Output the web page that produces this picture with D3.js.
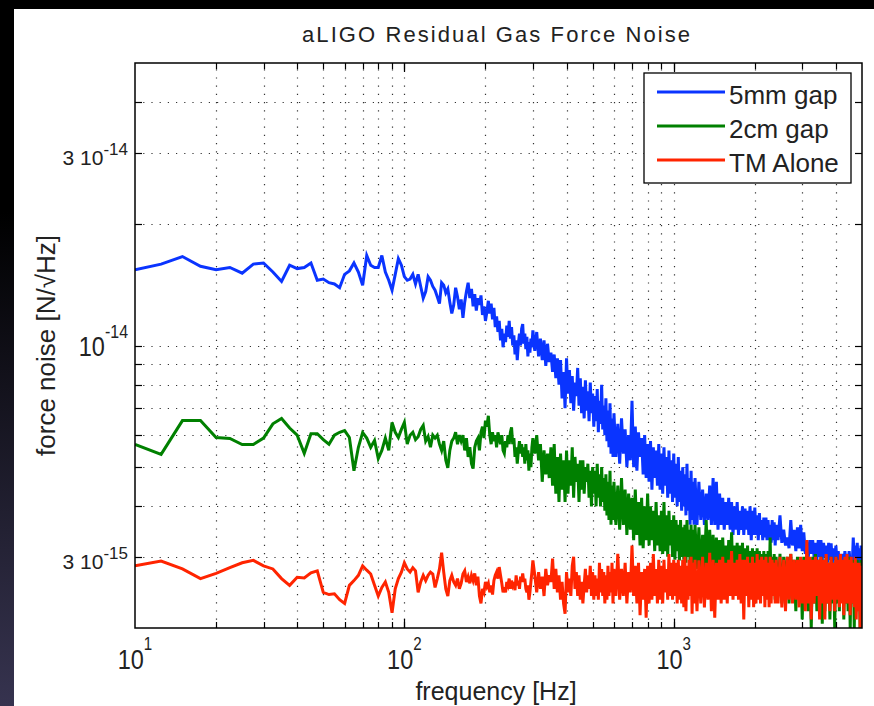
<!DOCTYPE html>
<html>
<head>
<meta charset="utf-8">
<script src="https://cdn.jsdelivr.net/npm/d3@7"></script>
<style>
  html, body { margin: 0; padding: 0; background: #000; }
  svg { display: block; font-family: "Liberation Sans", Arial, sans-serif; }
</style>
</head>
<body>
<div id="chart"></div>
<script>
// spectrum bins [start, stop, step] in Hz (coarser steps at high frequency)
var freqBins = [[10, 300, 2.5], [305, 600, 5], [610, 1200, 10], [1220, 2400, 20], [2440, 5040, 40]];

// force noise, in units of 1e-15 N/rtHz
var gap5mm = [
    // 10 - 150 Hz
    15.4, 15.9, 16.6, 15.7, 15.4, 15.6, 15.1, 15.9, 16.0, 15.2,
    14.4, 15.8, 15.5, 15.6, 16.0, 14.5, 14.6, 14.3, 14.2, 13.9,
    15.0, 15.3, 16.0, 15.2, 14.1, 16.7, 15.8, 15.6, 15.6, 16.7,
    15.2, 14.5, 13.7, 15.0, 16.4, 15.8, 14.8, 14.5, 14.6, 15.0,
    14.2, 15.0, 14.0, 13.1, 13.6, 14.8, 14.5, 14.0, 13.7, 13.2,
    12.7, 14.3, 14.1, 13.5, 13.8, 12.8, 12.0,
    // 152.5 - 300 Hz
    12.6, 13.9, 13.2, 12.3, 13.0, 11.7, 12.8, 13.6, 14.3, 13.1,
    13.8, 12.5, 13.4, 12.2, 13.1, 12.6, 13.3, 11.9, 12.5, 11.5,
    12.1, 12.9, 12.0, 12.7, 11.6, 12.4, 11.1, 11.8, 10.8, 11.5,
    10.3, 11.0, 9.9, 10.7, 10.2, 11.2, 10.5, 11.5, 10.4, 11.1,
    10.0, 10.6, 9.5, 10.3, 9.2, 10.1, 10.7, 10.0, 11.0, 11.3,
    10.1, 10.7, 9.8, 10.5, 9.4, 10.2, 9.6, 10.4, 9.9, 10.9,
    // 305 - 600 Hz
    9.7, 10.8, 9.4, 10.4, 9.2, 10.3, 8.9, 10.1, 9.1, 9.6,
    8.6, 9.5, 8.3, 9.3, 8.0, 9.2, 7.4, 8.6, 7.0, 9.3,
    7.6, 8.7, 7.2, 8.4, 6.9, 8.1, 7.5, 8.8, 7.1, 8.3,
    6.8, 7.9, 6.6, 8.2, 6.9, 7.7, 6.5, 8.1, 6.8, 7.6,
    6.3, 7.5, 6.5, 7.8, 6.1, 7.3, 6.4, 8.0, 6.2, 7.1,
    6.0, 7.4, 5.8, 6.9, 5.6, 7.2, 5.4, 6.6, 5.3, 6.8,
    // 610 - 1200 Hz
    5.3, 6.4, 5.1, 6.6, 5.4, 6.2, 5.0, 6.0, 5.2, 7.3,
    5.0, 6.3, 4.9, 6.1, 5.3, 5.9, 4.8, 6.0, 4.7, 5.7,
    4.6, 5.8, 4.4, 5.6, 4.7, 5.5, 4.5, 5.7, 4.4, 5.4,
    4.3, 5.6, 4.5, 5.3, 4.2, 5.5, 4.3, 5.2, 4.1, 5.4,
    4.2, 5.1, 4.0, 5.3, 4.1, 4.9, 3.9, 5.0, 4.0, 4.8,
    3.8, 5.1, 3.9, 4.7, 3.6, 4.9, 3.7, 4.6, 3.6, 4.7,
    // 1220 - 2400 Hz
    3.6, 4.6, 3.7, 4.4, 3.6, 4.3, 3.7, 4.5, 3.6, 4.7,
    3.6, 4.6, 3.5, 4.3, 3.6, 4.2, 3.5, 4.1, 3.6, 4.2,
    3.5, 4.1, 3.4, 4.0, 3.5, 4.1, 3.4, 3.9, 3.5, 4.0,
    3.4, 3.95, 3.5, 3.9, 3.4, 4.0, 3.3, 3.9, 3.4, 3.97,
    3.4, 3.8, 3.3, 3.85, 3.4, 3.7, 3.3, 3.75, 3.35, 3.75,
    3.3, 3.7, 3.3, 3.6, 3.25, 3.7, 3.3, 3.65, 3.2, 3.6,
    // 2440 - 5040 Hz
    3.3, 3.8, 3.25, 3.5, 3.2, 3.35, 3.15, 3.7, 3.2, 3.5,
    3.1, 3.55, 3.15, 3.6, 3.1, 3.45, 3.05, 3.25, 3.0, 3.3,
    3.05, 3.3, 3.0, 3.25, 2.95, 3.3, 3.0, 3.3, 2.95, 3.25,
    3.0, 3.2, 2.9, 3.25, 2.95, 3.24, 2.9, 3.15, 2.95, 3.2,
    2.9, 3.1, 2.85, 3.05, 2.9, 3.05, 2.85, 3.1, 2.9, 3.05,
    2.85, 3.1, 2.9, 3.0, 2.85, 3.35, 2.9, 3.2, 2.85, 3.25,
    2.9, 3.15, 2.85, 3.2, 2.9, 3.0
];

var gap2cm = [
    // 10 - 150 Hz
    5.69, 5.38, 6.52, 6.52, 5.92, 5.89, 5.69, 5.69, 5.9, 6.4,
    6.6, 6.25, 6.0, 5.41, 6.05, 6.05, 5.85, 5.7, 6.0, 6.1,
    6.16, 5.92, 4.9, 5.6, 6.09, 5.9, 5.6, 5.82, 5.25, 5.5,
    5.9, 5.5, 6.45, 6.1, 5.92, 6.2, 6.45, 5.7, 6.0, 6.1,
    5.85, 5.95, 6.2, 6.34, 5.8, 5.95, 5.6, 6.0, 5.9, 6.0,
    5.7, 5.5, 5.8, 5.2, 4.98, 5.5, 5.8,
    // 152.5 - 300 Hz
    5.9, 6.1, 5.7, 6.0, 5.8, 6.0, 5.5, 5.9, 5.3, 5.6,
    5.1, 4.96, 5.6, 5.8, 5.9, 5.5, 6.1, 6.3, 5.9, 6.52,
    6.3, 6.7, 6.0, 5.7, 6.1, 5.8, 6.0, 5.6, 6.1, 5.9,
    5.7, 6.0, 5.5, 5.41, 5.8, 5.6, 6.0, 5.7, 6.1, 6.27,
    5.7, 5.9, 5.3, 5.6, 5.1, 5.5, 5.8, 5.4, 5.7, 5.3,
    5.6, 5.1, 5.7, 5.2, 5.5, 4.9, 5.4, 5.0, 5.6, 5.9,
    // 305 - 600 Hz
    5.4, 6.0, 5.2, 5.7, 4.6, 5.5, 4.8, 5.4, 4.7, 5.6,
    4.5, 5.7, 4.3, 5.3, 4.1, 5.4, 4.4, 5.2, 4.1, 5.5,
    4.3, 5.2, 4.5, 5.6, 4.2, 5.3, 4.6, 5.1, 4.1, 5.2,
    4.4, 5.2, 4.3, 5.0, 4.6, 5.1, 4.2, 4.9, 4.0, 5.0,
    4.3, 4.9, 4.0, 5.1, 4.2, 4.8, 4.0, 5.0, 4.1, 4.7,
    3.9, 4.8, 3.8, 4.6, 3.7, 4.9, 3.6, 4.5, 3.7, 4.6,
    // 610 - 1200 Hz
    3.6, 4.5, 3.5, 4.7, 3.6, 4.4, 3.4, 4.3, 3.5, 4.2,
    3.3, 4.4, 3.4, 4.1, 3.2, 4.2, 3.15, 4.0, 3.3, 4.3,
    3.2, 4.0, 3.3, 3.9, 3.1, 4.1, 3.2, 3.8, 3.1, 3.9,
    3.05, 4.1, 3.1, 3.8, 3.0, 3.9, 3.2, 3.7, 3.0, 3.8,
    2.95, 3.7, 3.1, 3.6, 2.94, 3.7, 3.0, 3.55, 2.95, 3.6,
    2.9, 3.7, 3.0, 3.5, 2.9, 3.6, 2.85, 3.5, 2.9, 3.6,
    // 1220 - 2400 Hz
    2.8, 3.55, 2.7, 3.4, 2.8, 3.7, 2.7, 3.5, 2.75, 3.4,
    2.6, 3.35, 2.7, 3.3, 2.6, 3.35, 2.7, 3.2, 2.6, 3.3,
    2.7, 3.45, 2.6, 3.2, 2.65, 3.25, 2.55, 3.2, 2.6, 3.25,
    2.5, 3.15, 2.6, 3.2, 2.5, 3.1, 2.55, 3.15, 2.5, 3.1,
    2.6, 3.15, 2.45, 3.1, 2.5, 3.05, 2.4, 3.1, 2.5, 3.05,
    2.4, 3.1, 2.5, 3.35, 2.45, 3.0, 2.4, 3.05, 2.35, 3.0,
    // 2440 - 5040 Hz
    2.4, 3.05, 2.3, 3.0, 2.5, 3.0, 2.3, 3.05, 2.4, 2.95,
    2.2, 3.0, 2.4, 2.95, 2.1, 3.0, 2.3, 3.05, 2.2, 2.95,
    2.0, 3.0, 2.3, 3.05, 2.2, 2.95, 2.4, 3.0, 2.05, 2.95,
    2.2, 3.0, 2.3, 2.9, 2.1, 3.0, 2.3, 2.9, 2.0, 3.0,
    2.3, 2.95, 2.2, 3.0, 2.4, 2.9, 2.1, 2.95, 2.3, 2.9,
    2.2, 3.0, 2.0, 2.9, 2.3, 2.95, 2.0, 2.9, 2.2, 2.95,
    2.3, 2.9, 2.0, 2.95, 2.1, 2.9
];

var tmAlone = [
    // 10 - 150 Hz
    2.85, 2.93, 2.8, 2.65, 2.73, 2.82, 2.9, 2.94, 2.85, 2.8,
    2.65, 2.55, 2.67, 2.66, 2.74, 2.77, 2.45, 2.42, 2.43, 2.35,
    2.3, 2.55, 2.62, 2.7, 2.85, 2.78, 2.72, 2.55, 2.4, 2.52,
    2.6, 2.45, 2.18, 2.5, 2.65, 2.75, 2.9, 2.8, 2.75, 2.82,
    2.77, 2.45, 2.6, 2.7, 2.62, 2.7, 2.75, 2.72, 2.52, 2.65,
    2.8, 3.07, 2.75, 2.5, 2.4, 2.62, 2.7,
    // 152.5 - 300 Hz
    2.6, 2.55, 2.65, 2.5, 2.58, 2.72, 2.77, 2.6, 2.68, 2.58,
    2.7, 2.62, 2.73, 2.55, 2.68, 2.4, 2.3, 2.5, 2.45, 2.6,
    2.53, 2.58, 2.45, 2.55, 2.42, 2.62, 2.7, 2.75, 2.65, 2.83,
    2.7, 2.58, 2.45, 2.52, 2.45, 2.6, 2.55, 2.65, 2.5, 2.62,
    2.55, 2.6, 2.48, 2.7, 2.55, 2.62, 2.5, 2.68, 2.6, 2.73,
    2.6, 2.65, 2.5, 2.45, 2.55, 2.35, 2.45, 2.6, 2.75, 2.94,
    // 305 - 600 Hz
    2.7, 2.45, 2.75, 2.5, 2.68, 2.4, 2.8, 2.55, 2.7, 2.6,
    2.97, 2.5, 2.8, 2.45, 2.7, 2.35, 2.6, 2.3, 2.17, 2.75,
    2.45, 2.65, 2.4, 2.85, 3.0, 2.5, 2.75, 2.4, 2.7, 2.35,
    2.6, 2.3, 2.55, 2.8, 2.45, 2.7, 2.5, 2.85, 2.4, 2.75,
    2.35, 2.7, 2.4, 2.65, 2.35, 2.9, 2.45, 2.8, 2.4, 2.75,
    2.3, 2.7, 2.35, 2.85, 2.4, 2.75, 2.45, 2.9, 2.3, 2.8,
    // 610 - 1200 Hz
    2.4, 3.05, 2.35, 2.8, 2.4, 2.9, 2.3, 2.75, 2.45, 3.2,
    2.4, 2.85, 2.3, 2.9, 2.15, 2.75, 2.35, 2.8, 2.12, 2.85,
    2.3, 2.9, 2.35, 3.05, 2.4, 2.8, 2.3, 2.95, 2.35, 2.85,
    2.3, 2.95, 2.45, 2.8, 2.35, 3.05, 2.4, 2.9, 2.35, 2.95,
    2.4, 2.9, 2.3, 2.95, 2.35, 2.85, 2.3, 2.95, 2.25, 3.0,
    2.2, 2.85, 2.35, 2.95, 2.4, 3.0, 2.17, 2.9, 2.3, 2.95,
    // 1220 - 2400 Hz
    2.2, 2.94, 2.3, 3.0, 2.25, 2.9, 2.35, 3.07, 2.2, 2.95,
    2.12, 2.9, 2.35, 2.95, 2.3, 3.0, 2.35, 2.9, 2.3, 2.95,
    2.4, 3.1, 2.35, 2.9, 2.4, 2.95, 2.35, 3.05, 2.3, 2.95,
    2.1, 2.95, 2.4, 3.0, 2.25, 2.9, 2.35, 3.0, 2.25, 2.9,
    2.3, 3.05, 2.35, 2.95, 2.3, 3.0, 2.4, 2.95, 2.25, 3.0,
    2.35, 2.9, 2.25, 3.0, 2.3, 2.95, 2.4, 2.9, 2.3, 2.95,
    // 2440 - 5040 Hz
    2.3, 3.0, 2.25, 2.95, 2.2, 3.0, 2.35, 3.05, 2.3, 2.95,
    2.35, 2.95, 2.25, 3.0, 2.3, 2.95, 2.2, 3.3, 2.3, 3.0,
    2.1, 2.95, 2.3, 3.0, 2.4, 2.95, 2.1, 3.0, 2.3, 2.95,
    2.1, 3.05, 2.3, 2.9, 2.2, 3.0, 2.35, 2.9, 2.2, 3.0,
    2.35, 2.95, 2.25, 3.05, 2.3, 2.95, 2.15, 3.0, 2.3, 3.05,
    2.3, 2.95, 2.15, 3.0, 2.3, 2.9, 2.25, 3.0, 2.1, 2.9,
    2.2, 2.9, 2.0, 2.85, 2.3, 2.8
];

var seriesNames = ["5mm gap", "2cm gap", "TM Alone"];

var xTickValues = [10, 100, 1000];
var xTickExponents = ["1", "2", "3"];
var yTickValues = [3e-15, 1e-14, 3e-14];
var yTickMantissas = ["3 10", "10", "3 10"];
var yTickExponents = ["-15", "-14", "-14"];

function drawChart() {
    var width = 874;
    var height = 706;

    var plot = {left: 135, top: 63, right: 862, bottom: 628};
    var colours = ["#0a34ff", "#008000", "#ff2400"];

    var freq = [];
    freqBins.forEach(function(b) {
        d3.range(b[0], b[1] + b[2] / 2, b[2]).forEach(function(f) {
            freq.push(f);
        });
    });

    var svg = d3.select("#chart")
        .append("svg")
        .attr("width", width)
        .attr("height", height);

    var defs = svg.append("defs");
    var grad = defs.append("linearGradient")
        .attr("id", "leftStrip")
        .attr("x1", 0).attr("y1", 0)
        .attr("x2", 0).attr("y2", 1);
    grad.append("stop").attr("offset", "0%").attr("stop-color", "#000");
    grad.append("stop").attr("offset", "30%").attr("stop-color", "#000");
    grad.append("stop").attr("offset", "100%").attr("stop-color", "#36334f");

    defs.append("clipPath")
        .attr("id", "plotClip")
        .append("rect")
        .attr("x", plot.left)
        .attr("y", plot.top)
        .attr("width", plot.right - plot.left)
        .attr("height", plot.bottom - plot.top);

    // slide background
    svg.append("rect")
        .attr("width", width).attr("height", height)
        .attr("fill", "#000");
    svg.append("rect")
        .attr("x", 0).attr("y", 0)
        .attr("width", 14).attr("height", height)
        .attr("fill", "url(#leftStrip)");
    svg.append("rect")
        .attr("x", 14).attr("y", 9)
        .attr("width", width - 14).attr("height", height - 9)
        .attr("fill", "#fff");

    var x = d3.scaleLog()
        .domain([10, 5000])
        .range([plot.left, plot.right]);

    var y = d3.scaleLog()
        .domain([2e-15, 5e-14])
        .range([plot.bottom, plot.top]);

    var xMinor = x.ticks().filter(function(d) {
        return d > 10.01 && d < 4999;
    });
    var yMinor = y.ticks().filter(function(d) {
        return d > 2.01e-15 && d < 4.99e-14;
    });

    // dotted grid
    var grid = svg.append("g")
        .attr("class", "grid")
        .attr("stroke", "#333")
        .attr("stroke-width", 1.2)
        .attr("stroke-dasharray", "1.2,7");

    grid.selectAll(".gx")
        .data(xMinor)
        .enter()
        .append("line")
        .attr("x1", function(d) { return Math.round(x(d)) + 0.5; })
        .attr("x2", function(d) { return Math.round(x(d)) + 0.5; })
        .attr("y1", plot.bottom)
        .attr("y2", plot.top);

    grid.selectAll(".gy")
        .data(yMinor)
        .enter()
        .append("line")
        .attr("y1", function(d) { return Math.round(y(d)) + 0.5; })
        .attr("y2", function(d) { return Math.round(y(d)) + 0.5; })
        .attr("x1", plot.left)
        .attr("x2", plot.right);

    // traces
    var series = [gap5mm, gap2cm, tmAlone];
    var line = d3.line()
        .x(function(d) { return x(d[0]); })
        .y(function(d) { return y(d[1] * 1e-15); });

    var traces = svg.append("g")
        .attr("clip-path", "url(#plotClip)");

    series.forEach(function(values, i) {
        var n = Math.min(values.length, freq.length);
        var pts = d3.range(n).map(function(k) {
            return [freq[k], values[k]];
        });
        traces.append("path")
            .datum(pts)
            .attr("d", line)
            .attr("fill", "none")
            .attr("stroke", colours[i])
            .attr("stroke-width", 3)
            .attr("stroke-linejoin", "miter");
    });

    // axes box with inward ticks on all sides
    var axes = svg.append("g").attr("class", "axes");

    function ticks(g, vals, len, horizontal) {
        vals.forEach(function(v) {
            if (horizontal) {
                var px = Math.round(x(v)) + 0.5;
                g.append("line").attr("x1", px).attr("x2", px)
                    .attr("y1", plot.bottom).attr("y2", plot.bottom - len);
                g.append("line").attr("x1", px).attr("x2", px)
                    .attr("y1", plot.top).attr("y2", plot.top + len);
            } else {
                var py = Math.round(y(v)) + 0.5;
                g.append("line").attr("y1", py).attr("y2", py)
                    .attr("x1", plot.left).attr("x2", plot.left + len);
                g.append("line").attr("y1", py).attr("y2", py)
                    .attr("x1", plot.right).attr("x2", plot.right - len);
            }
        });
    }

    var tickG = axes.append("g")
        .attr("stroke", "#000")
        .attr("stroke-width", 1.2);
    ticks(tickG, xMinor, 6, true);
    ticks(tickG, [100, 1000], 9, true);
    ticks(tickG, yMinor, 7, false);

    axes.append("rect")
        .attr("x", plot.left)
        .attr("y", plot.top)
        .attr("width", plot.right - plot.left)
        .attr("height", plot.bottom - plot.top)
        .attr("fill", "none")
        .attr("stroke", "#000")
        .attr("stroke-width", 1.5);

    // x tick labels, 10^n (glyphs a little narrow, like the original)
    xTickValues.forEach(function(v, i) {
        var label = axes.append("text")
            .attr("transform", "translate(" + x(v) + ",669) scale(0.84,1)")
            .attr("text-anchor", "middle")
            .attr("font-size", 28)
            .attr("fill", "#222");
        label.append("tspan").text("10");
        label.append("tspan")
            .attr("dy", -19)
            .attr("font-size", 18)
            .text(xTickExponents[i]);
    });

    // y tick labels
    yTickValues.forEach(function(v, i) {
        var py = y(v);
        var plain = yTickMantissas[i] === "10";
        var label = axes.append("text")
            .attr("transform", "translate(128," + (py + (plain ? 10 : 12)) + ")" +
                (plain ? " scale(0.84,1)" : ""))
            .attr("text-anchor", "end")
            .attr("fill", "#222");
        label.append("tspan")
            .attr("font-size", plain ? 28 : 21)
            .text(yTickMantissas[i]);
        label.append("tspan")
            .attr("dy", plain ? -18 : -10)
            .attr("font-size", plain ? 19 : 17)
            .text(yTickExponents[i]);
    });

    // title and axis labels
    svg.append("text")
        .attr("x", 496)
        .attr("y", 42)
        .attr("text-anchor", "middle")
        .attr("font-size", 22)
        .attr("textLength", 388)
        .attr("lengthAdjust", "spacing")
        .attr("fill", "#222")
        .text("aLIGO Residual Gas Force Noise");

    svg.append("text")
        .attr("x", 496)
        .attr("y", 700)
        .attr("text-anchor", "middle")
        .attr("font-size", 25)
        .attr("fill", "#222")
        .text("frequency [Hz]");

    svg.append("text")
        .attr("transform", "translate(55," + ((plot.top + plot.bottom) / 2) + ") rotate(-90)")
        .attr("text-anchor", "middle")
        .attr("font-size", 26)
        .attr("fill", "#222")
        .text("force noise [N/\u221AHz]");

    // legend
    var legend = svg.append("g")
        .attr("class", "legend")
        .attr("transform", "translate(644,73)");

    legend.append("rect")
        .attr("width", 207)
        .attr("height", 110)
        .attr("fill", "#fff")
        .attr("stroke", "#000")
        .attr("stroke-width", 1.3);

    seriesNames.forEach(function(name, i) {
        var row = legend.append("g")
            .attr("transform", "translate(0," + (19 + i * 34) + ")");
        row.append("line")
            .attr("x1", 13)
            .attr("x2", 81)
            .attr("stroke", colours[i])
            .attr("stroke-width", 3);
        row.append("text")
            .attr("x", 85)
            .attr("y", 12)
            .attr("font-size", 26)
            .attr("fill", "#222")
            .text(name);
    });
}

drawChart();
</script>
</body>
</html>
